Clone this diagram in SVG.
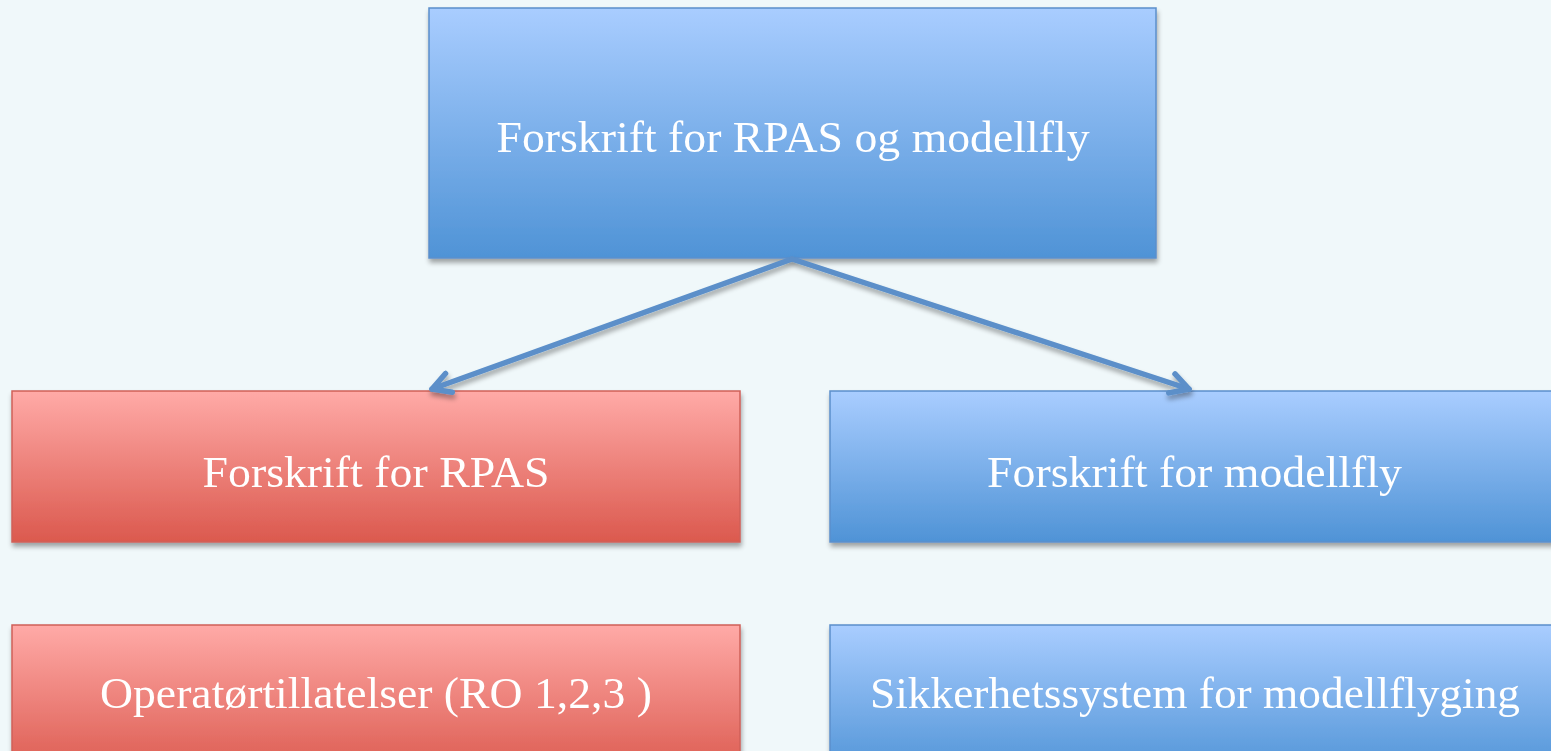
<svg xmlns="http://www.w3.org/2000/svg" width="1551" height="751" viewBox="0 0 1551 751">
<style>
.lbl{font-family:"Liberation Serif","Times New Roman",serif;font-size:45px;fill:#ffffff;text-anchor:middle}
.blue{fill:url(#gb);stroke:#5b8fcb;stroke-width:1.5}
.red{fill:url(#gr);stroke:#cf6058;stroke-width:1.5}
.conn{stroke:#5b8fc9;stroke-width:5.5;fill:none;stroke-linecap:round}
</style>
<defs>
<linearGradient id="gb" x1="0" y1="0" x2="0" y2="1">
<stop offset="0" stop-color="#a9cdff"/>
<stop offset="1" stop-color="#4f93d6"/>
</linearGradient>
<linearGradient id="gr" x1="0" y1="0" x2="0" y2="1">
<stop offset="0" stop-color="#ffaaa7"/>
<stop offset="1" stop-color="#db594e"/>
</linearGradient>
<filter id="sh" x="-5%" y="-10%" width="110%" height="130%">
<feGaussianBlur in="SourceAlpha" stdDeviation="2.5"/>
<feOffset dx="1" dy="4" result="b"/>
<feComponentTransfer><feFuncA type="linear" slope="0.35"/></feComponentTransfer>
<feMerge><feMergeNode/><feMergeNode in="SourceGraphic"/></feMerge>
</filter>
<marker id="ah" viewBox="0 0 26 26" refX="22" refY="13" markerWidth="26" markerHeight="26" markerUnits="userSpaceOnUse" orient="auto">
<path d="M4,3 L22,13 L4,23" fill="none" stroke="#5b8fc9" stroke-width="5.5" stroke-linecap="round" stroke-linejoin="round"/>
</marker>
</defs>
<rect width="1551" height="751" fill="#f0f8fa"/>
<g id="n-top" filter="url(#sh)">
<rect class="blue" x="429" y="8" width="727" height="250"/>
<text class="lbl" x="793" y="152" textLength="593" lengthAdjust="spacingAndGlyphs">Forskrift for RPAS og modellfly</text>
</g>
<g id="n-rpas" filter="url(#sh)">
<rect class="red" x="12" y="391" width="728" height="151"/>
<text class="lbl" x="376" y="487" textLength="347" lengthAdjust="spacingAndGlyphs">Forskrift for RPAS</text>
</g>
<g id="n-modellfly" filter="url(#sh)">
<rect class="blue" x="830" y="391" width="728" height="151"/>
<text class="lbl" x="1194.5" y="487" textLength="415" lengthAdjust="spacingAndGlyphs">Forskrift for modellfly</text>
</g>
<g id="n-operator" filter="url(#sh)">
<rect class="red" x="12" y="625" width="728" height="151"/>
<text class="lbl" x="376" y="708" textLength="552" lengthAdjust="spacingAndGlyphs">Operatørtillatelser (RO 1,2,3 )</text>
</g>
<g id="n-sikkerhet" filter="url(#sh)">
<rect class="blue" x="830" y="625" width="728" height="151"/>
<text class="lbl" x="1195" y="708" textLength="650" lengthAdjust="spacingAndGlyphs">Sikkerhetssystem for modellflyging</text>
</g>
<g id="connectors" filter="url(#sh)">
<line class="conn" x1="792" y1="259" x2="432" y2="389" marker-end="url(#ah)"/>
<line class="conn" x1="792" y1="259" x2="1189" y2="389" marker-end="url(#ah)"/>
</g>
</svg>
